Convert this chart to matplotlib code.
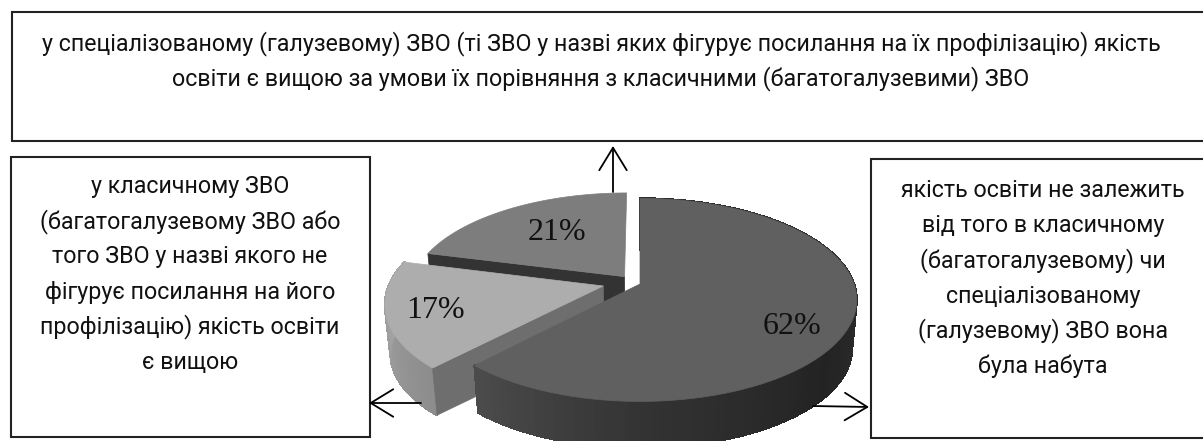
import numpy as np
import matplotlib
matplotlib.use("Agg")
import matplotlib.pyplot as plt
from matplotlib.patches import Polygon, Rectangle

# --- data
shares = [62, 17, 21]
top_lines = ["у спеціалізованому (галузевому) ЗВО (ті ЗВО у назві яких фігурує посилання на їх профілізацію) якість",
             "освіти є вищою за умови їх порівняння з класичними (багатогалузевими) ЗВО"]
left_lines = ["у класичному ЗВО", "(багатогалузевому ЗВО або", "того ЗВО у назві якого не",
              "фігурує посилання на його", "профілізацію) якість освіти", "є вищою"]
right_lines = ["якість освіти не залежить", "від того в класичному", "(багатогалузевому) чи",
               "спеціалізованому", "(галузевому) ЗВО вона", "була набута"]

# --- geometry / style
W, H = 1203, 441
CX, CY, A, B, K = 640, 284, 214, 99, 0.157
DROP, SHRINK = 49, 0.978
OFFSETS = [(0.0, 0.0), (-0.171, 0.02), (-0.073, -0.075)]
TOP = ["#606060", "#adadad", "#7d7d7d"]
WALL_STOPS = [
    ([0, 90, 130, 180, 223.2], ["#2e2e2e", "#2e2e2e", "#232323", "#333333", "#4c4c4c"]),
    ([223.2, 284.4], ["#8c8c8c", "#a9a9a9"]),
    None,
]
CUT = [None, "#6e6e6e", "#333333"]
LABEL_XY = [(792, 327), (436, 311), (557, 233)]
FONT = "Roboto"
FS = 16.75


def top_pt(deg, r, off):
    t = np.radians(deg)
    u = off[0] + r * np.sin(t)
    v = off[1] - r * np.cos(t)
    s = 1 / (1 - K * v)
    return np.array([CX + A * u * s, CY + B * v * s])


def low_pt(deg, r, off):
    p = top_pt(deg, r, off)
    return np.array([CX + SHRINK * (p[0] - CX), CY + DROP + SHRINK * (p[1] - CY)])


def hex2g(c):
    return int(c[1:3], 16)


fig = plt.figure(figsize=(W / 100, H / 100), dpi=100)
ax = fig.add_axes([0, 0, 1, 1])
ax.set_xlim(0, W)
ax.set_ylim(H, 0)
ax.axis("off")

edges = np.concatenate([[0], np.cumsum(shares)]) * 360 / sum(shares)
for idx in [2, 1, 0]:
    a0, a1 = edges[idx], edges[idx + 1]
    off = OFFSETS[idx]
    z = 2 + (2 - idx) * 3
    angs = np.linspace(a0, a1, 90)
    if WALL_STOPS[idx]:
        stops, cols = WALL_STOPS[idx]
        grays = [hex2g(c) for c in cols]
        for p, q in zip(angs[:-1], angs[1:]):
            g = np.interp((p + q) / 2, stops, grays) / 255
            ax.add_patch(Polygon([top_pt(p, 1, off), top_pt(q, 1, off), low_pt(q, 1, off), low_pt(p, 1, off)],
                                 closed=True, fc=(g, g, g), ec=(g, g, g), lw=1.0,
                                 antialiased=False, zorder=z))
    if CUT[idx]:
        ax.add_patch(Polygon([top_pt(a0, 0, off), top_pt(a0, 1, off), low_pt(a0, 1, off), low_pt(a0, 0, off)],
                             closed=True, fc=CUT[idx], ec=CUT[idx], lw=0.5, zorder=z + 1))
    outline = [top_pt(a, 1, off) for a in angs] + [top_pt(a0, 0, off)]
    ax.add_patch(Polygon(outline, closed=True, fc=TOP[idx], ec=TOP[idx], lw=0.5, zorder=z + 2))

for val, (x, y) in zip(shares, LABEL_XY):
    ax.text(x, y, f"{val}%", ha="center", va="center", fontsize=23,
            family="Liberation Serif", color="#111111", zorder=20)

# boxes
for x0, y0, x1, y1 in [(12, 12, 1206, 141), (11, 157, 370, 437), (871, 159, 1206, 438)]:
    ax.add_patch(Rectangle((x0, y0), x1 - x0, y1 - y0, fc="white", ec="#222222", lw=1.5, zorder=1))


def block(lines, x, y0, step):
    for i, line in enumerate(lines):
        ax.text(x, y0 + i * step, line, ha="center", va="baseline", fontsize=FS,
                family=FONT, color="#111111", zorder=21)


block(top_lines, 601, 50.5, 34.5)
block(left_lines, 190, 192.7, 35.3)
block(right_lines, 1043, 197.3, 35.1)

# arrows
for tail, head in [((613, 192), (613, 146)), ((421, 403), (369, 403)), ((813, 406), (869, 407))]:
    ax.annotate("", xy=head, xytext=tail, zorder=22,
                arrowprops=dict(arrowstyle="->,head_length=0.9,head_width=0.55", color="black", lw=1.3,
                                shrinkA=0, shrinkB=0, mutation_scale=18))

fig.savefig("out.png", dpi=100)
